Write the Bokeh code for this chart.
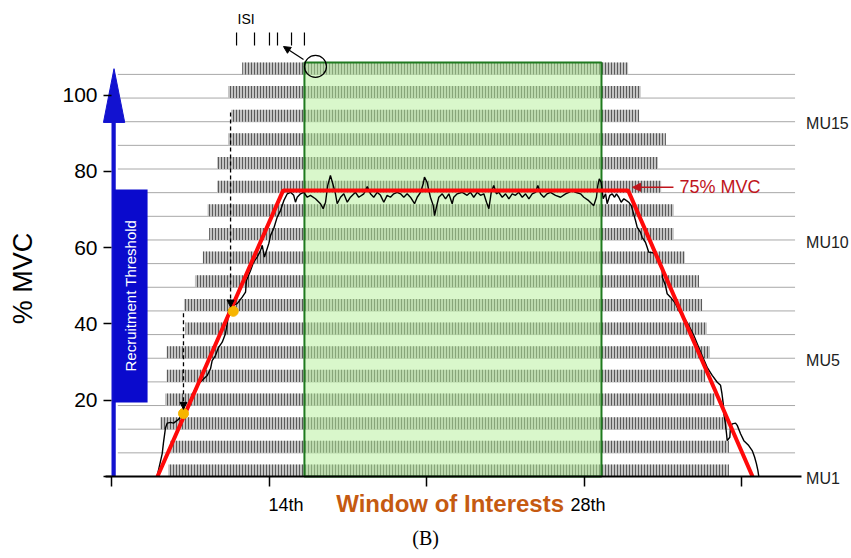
import math
from bokeh.plotting import figure
from bokeh.models import Label, Arrow, NormalHead, FixedTicker, Range1d
from bokeh.embed import file_html
from bokeh.resources import INLINE

# ---------------- data ----------------
mu_index = list(range(1, 19))
mu_start = [3.6, 3.75, 3.1, 3.4, 3.5, 3.5, 4.7, 4.6, 5.3, 5.8, 6.2, 6.1, 6.7, 6.7, 7.4, 7.6, 7.4, 8.3]
mu_end = [39.2, 39.2, 39.1, 38.3, 37.7, 38.0, 37.8, 37.5, 37.3, 36.4, 35.7, 35.7, 34.9, 34.7, 35.2, 33.5, 33.6, 32.8]
mu_labels = ["MU1", "MU5", "MU10", "MU15"]
mu_label_y = [-0.5, 30.4, 61.3, 92.5]

ramp_t = [2.92, 10.9, 32.8, 40.7]
ramp_mvc = [0, 75, 75, 0]

force_t = [2.90, 2.98, 3.22, 3.30, 3.43, 3.54, 3.75, 3.94, 4.17, 4.38, 4.63, 5.21, 5.52, 5.76, 6.08,
           6.29, 6.39, 6.60, 6.79, 7.03, 7.24, 7.38, 7.43, 7.66, 7.98, 8.30, 8.51, 8.57, 8.83, 9.02,
           9.25, 9.46, 9.57, 9.71, 9.99, 10.10, 10.30, 10.52, 10.73, 10.94, 11.16, 11.37, 11.57, 11.68, 11.79,
           12.00, 12.21, 12.43, 12.63, 12.95, 13.27, 13.44, 13.59, 13.73, 13.90, 14.08, 14.22, 14.33, 14.54, 14.75,
           14.97, 15.17, 15.49, 15.70, 16.02, 16.24, 16.44, 16.65, 16.87, 17.08, 17.29, 17.50, 17.71, 17.92, 18.14,
           18.35, 18.56, 18.77, 18.98, 19.24, 19.41, 19.62, 19.79, 19.87, 20.04, 20.15, 20.25, 20.43, 20.51, 20.63,
           20.78, 21.00, 21.21, 21.42, 21.63,
           21.73, 21.95, 22.27, 22.58, 22.79, 23.00, 23.22, 23.43, 23.64, 23.81, 23.96, 24.11, 24.27, 24.44, 24.59,
           24.81, 25.02, 25.23, 25.44, 25.65, 25.86, 26.08, 26.29, 26.50, 26.71, 26.92, 27.07, 27.24, 27.45, 27.66,
           27.87, 28.19, 28.51, 28.83, 29.04, 29.25, 29.46, 29.78, 29.99, 30.30, 30.62, 30.79, 30.88, 30.97, 31.09,
           31.22, 31.37, 31.47, 31.64, 31.79, 31.94, 32.06, 32.21, 32.36, 32.53, 32.70, 32.84, 33.00, 33.12, 33.27,
           33.38, 33.59, 33.69, 33.90, 34.01, 34.11, 34.43, 34.65, 34.86, 34.97, 34.97, 35.17, 35.28, 35.49, 35.81,
           36.02, 36.34, 36.65, 36.97, 37.19, 37.50, 37.82, 38.14, 38.46, 38.67, 38.76, 38.84, 38.88, 38.98, 39.05,
           39.09, 39.26, 39.30, 39.41, 39.62, 39.73, 39.94, 40.15, 40.46, 40.68, 40.83, 40.95, 41.04, 41.10]
force_mvc = [0, 1.6, 6.0, 8.9, 12.8, 14.0, 14.2, 14.0, 14.7, 15.5, 16.3, 22.1, 24.4, 25.2, 26.5,
             28.3, 30.4, 31.7, 33.8, 35.2, 37.5, 40.9, 43.5, 44.8, 45.3, 47.0, 48.3, 51.4, 54.0, 56.2,
             57.5, 59.2, 60.6, 57.5, 61.1, 63.2, 65.0, 68.0, 69.7, 72.3, 74.1, 74.5, 73.7, 71.9, 73.2,
             74.1, 74.5, 73.2, 73.7, 72.8, 71.5, 70.2, 71.9, 76.3, 78.9, 76.3, 74.1, 71.5, 73.2, 74.1,
             71.9, 73.2, 74.5, 73.2, 74.1, 76.0, 74.1, 73.2, 74.5, 73.7, 71.9, 73.7, 73.2, 74.1, 74.5,
             74.1, 73.2, 74.1, 73.2, 71.5, 73.2, 74.5, 76.7, 78.5, 77.1, 75.0, 73.2, 71.0, 68.4, 70.6,
             73.2, 74.1, 72.8, 74.1, 71.5,
             73.2, 74.1, 74.5, 73.7, 74.5, 73.2, 74.5, 73.7, 74.1, 71.9, 70.2, 74.5, 76.3, 74.1, 74.5,
             73.2, 74.1, 72.8, 74.1, 73.7, 74.5, 73.2, 74.1, 72.8, 74.1, 74.5, 76.3, 74.1, 73.2, 74.1,
             74.5, 73.7, 73.2, 74.1, 74.5, 75.0, 74.5, 74.1, 73.2, 72.3, 71.0, 73.2, 76.3, 78.0, 77.1,
             72.8, 74.1, 71.5, 73.7, 74.1, 73.2, 74.1, 73.2, 71.9, 72.8, 72.3, 71.9, 71.0, 69.3, 67.1,
             65.3, 64.0, 62.7, 61.4, 60.1, 58.8, 58.6, 57.9, 56.2, 54.5, 52.2, 50.1, 47.9, 47.0, 45.3,
             43.5, 41.8, 39.6, 37.0, 34.8, 31.7, 28.6, 26.5, 24.7, 23.9, 21.7, 19.1, 16.4, 13.8, 11.2,
             9.4, 10.3, 12.9, 13.8, 14.0, 13.4, 11.2, 9.4, 8.1, 6.8, 5.1, 3.3, 1.6, 0]

window_t = [12.25, 31.11]
threshold_t = [4.57, 7.73]
threshold_mvc = [16.5, 43.3]
isi_t = [7.94, 9.08, 10.03, 10.54, 11.43, 12.25]
y_ticks = [0, 20, 40, 60, 80, 100]
x_ticks = [0, 10, 20, 30, 40]

# ---------------- layout ----------------
W, H = 851, 556
PX_X, PX_Y = 15.75, 3.815      # pixels per data unit
X0_PX, Y0_PX = 111, 476        # pixel position of the data origin
ROW = 6.2
BAND = 3.15
base = [(k - 1) * ROW for k in mu_index]
top = [b + BAND for b in base]

SANS = "Liberation Sans"

p = figure(width=W, height=H,
           x_range=Range1d(-X0_PX / PX_X, (W - X0_PX) / PX_X),
           y_range=Range1d((Y0_PX - H) / PX_Y, Y0_PX / PX_Y),
           output_backend="svg", toolbar_location=None, title=None,
           min_border_left=0, min_border_right=0, min_border_top=0, min_border_bottom=0)
p.outline_line_color = None
p.xgrid.visible = False
p.ygrid.visible = False
p.background_fill_color = "white"
p.border_fill_color = "white"

# axes, pinned at the data origin
p.yaxis.fixed_location = 0
p.yaxis.bounds = (0, 100)
p.yaxis.ticker = FixedTicker(ticks=y_ticks)
p.yaxis.major_label_overrides = {0: ""}
p.yaxis.axis_line_color = None
p.yaxis.major_tick_in = 0
p.yaxis.major_tick_out = 8
p.yaxis.major_tick_line_width = 1.5
p.yaxis.minor_tick_line_color = None
p.yaxis.major_label_text_font = SANS
p.yaxis.major_label_text_font_size = "21px"
p.yaxis.major_label_text_color = "black"
p.yaxis.major_label_standoff = 6

p.xaxis.fixed_location = 0
p.xaxis.bounds = (-0.4, 43.8)
p.xaxis.ticker = FixedTicker(ticks=x_ticks)
p.xaxis.major_label_overrides = {t: "" for t in x_ticks}
p.xaxis.major_label_text_font_size = "1px"
p.xaxis.axis_line_width = 2
p.xaxis.axis_line_color = "black"
p.xaxis.major_tick_in = 0
p.xaxis.major_tick_out = 10
p.xaxis.major_tick_line_width = 1.5
p.xaxis.minor_tick_line_color = None

# baselines
p.segment(x0=[0.4] * len(base), x1=[43.4] * len(base), y0=base, y1=base,
          line_color="#a8a8a8", line_width=1)

# spike rasters
p.quad(left=mu_start, right=mu_end, bottom=base, top=top,
       fill_color="#c4c4c4", line_color=None,
       hatch_pattern="vertical_line", hatch_color="#404040", hatch_scale=3, hatch_weight=1, hatch_alpha=0.8)

# window of interest
p.quad(left=[window_t[0]], right=[window_t[1]], bottom=[0], top=[108.5],
       fill_color="#b4ef98", fill_alpha=0.5, line_color="#1f7a1f", line_width=2)

# force trace and target
p.line(force_t, force_mvc, line_color="black", line_width=1.4)
p.line(ramp_t, ramp_mvc, line_color="#ff0a0a", line_width=4)

# recruitment threshold dashed arrows and points
p.add_layout(Arrow(x_start=4.57, y_start=42.8, x_end=4.57, y_end=17.6, line_color="black",
                   line_width=1.3, line_dash="4 3",
                   end=NormalHead(size=7, fill_color="black", line_color="black")))
p.add_layout(Arrow(x_start=7.56, y_start=95.4, x_end=7.56, y_end=44.4, line_color="black",
                   line_width=1.3, line_dash="4 3",
                   end=NormalHead(size=7, fill_color="black", line_color="black")))
p.scatter(threshold_t, threshold_mvc, size=10, fill_color="#f7b500", line_color="#f7b500")

# blue recruitment arrow + box
p.quad(left=[0.0], right=[0.27], bottom=[0], top=[93.5], fill_color="#1212d0", line_color=None)
p.patch(x=[-0.51, 0.84, 0.16], y=[92.8, 92.8, 106.9], fill_color="#1212d0", line_color="#1212d0")
p.quad(left=[0.13], right=[2.29], bottom=[19.4], top=[75.2], fill_color="#0a0acd", line_color=None)
p.add_layout(Label(x=1.21, y=47.4, text="Recruitment Threshold", angle=math.pi / 2,
                   text_align="center", text_baseline="middle", text_color="white",
                   text_font=SANS, text_font_size="15px"))

# ISI inset
p.segment(x0=isi_t, x1=isi_t, y0=[113.0] * len(isi_t), y1=[116.4] * len(isi_t),
          line_color="black", line_width=1.2)
p.add_layout(Label(x=8.0, y=120.0, text="ISI", text_align="left", text_baseline="middle",
                   text_font=SANS, text_font_size="14px", text_color="black"))
p.scatter([12.95], [107.5], size=22, fill_color=None, line_color="black", line_width=1.2)
p.add_layout(Arrow(x_start=12.19, y_start=109.3, x_end=10.92, y_end=112.7, line_color="black",
                   line_width=1.2, end=NormalHead(size=7, fill_color="black", line_color="black")))

# 75% MVC
p.add_layout(Arrow(x_start=35.68, y_start=75.8, x_end=33.08, y_end=75.8, line_color="#c0141c",
                   line_width=1.5, end=NormalHead(size=8, fill_color="#c0141c", line_color="#c0141c")))
p.add_layout(Label(x=36.06, y=75.8, text="75% MVC", text_align="left", text_baseline="middle",
                   text_font=SANS, text_font_size="18px", text_color="#c0141c"))

# MU labels
for lab, yy in zip(mu_labels, mu_label_y):
    p.add_layout(Label(x=44.1, y=yy, text=lab, text_align="left", text_baseline="middle",
                       text_font=SANS, text_font_size="16px", text_color="#222222"))

# axis texts
p.add_layout(Label(x=-5.59, y=51.9, text="% MVC", angle=math.pi / 2, text_align="center",
                   text_baseline="middle", text_font=SANS, text_font_size="27px", text_color="black"))
p.add_layout(Label(x=9.97, y=-7.6, text="14th", text_align="left", text_baseline="middle",
                   text_font=SANS, text_font_size="18px", text_color="black"))
p.add_layout(Label(x=29.14, y=-7.6, text="28th", text_align="left", text_baseline="middle",
                   text_font=SANS, text_font_size="18px", text_color="black"))
p.add_layout(Label(x=21.5, y=-7.1, text="Window of Interests", text_align="center",
                   text_baseline="middle", text_font=SANS, text_font_size="24px",
                   text_font_style="bold", text_color="#c55a11"))
p.add_layout(Label(x=19.94, y=-16.0, text="(B)", text_align="center", text_baseline="middle",
                   text_font="Liberation Serif", text_font_size="20px", text_color="black"))

open("out.html", "w").write(file_html(p, INLINE))
